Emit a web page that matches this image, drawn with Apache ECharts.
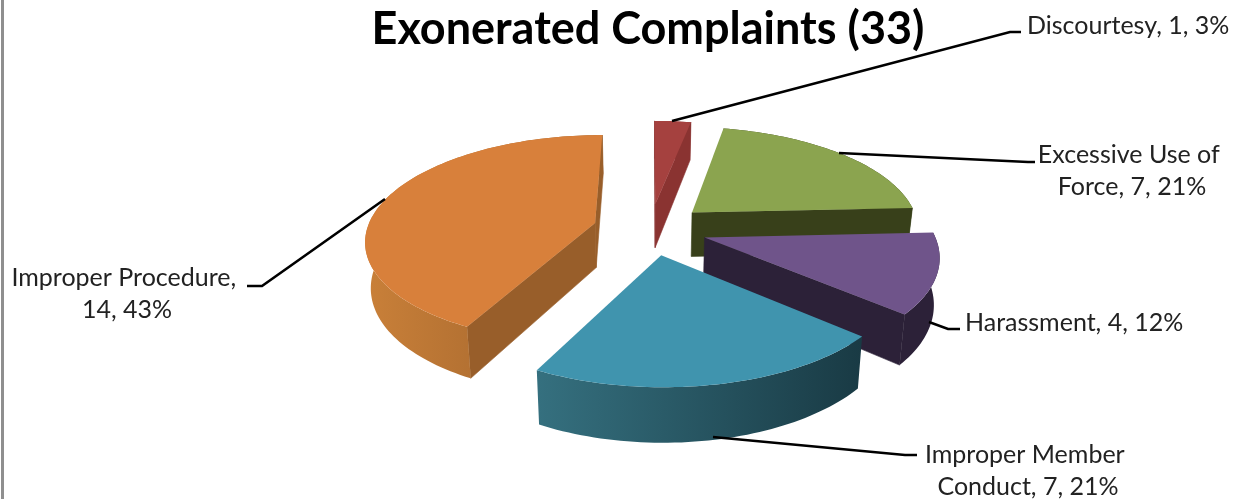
<!DOCTYPE html>
<html>
<head>
<meta charset="utf-8">
<style>
    html, body {margin: 0; padding: 0; background: #fff;}
    #complaints_chart {width: 1239px; height: 499px;}
</style>
<script src="https://cdn.jsdelivr.net/npm/echarts@6/dist/echarts.min.js"></script>
</head>
<body>
<div id="complaints_chart"></div>
<script>
var chartTitle = "Exonerated Complaints (33)";
var categories = ["Discourtesy", "Excessive Use of Force", "Harassment", "Improper Member Conduct", "Improper Procedure"];
var counts = [1, 7, 4, 7, 14];
var percents = [3, 21, 12, 21, 43];

// colours: top face, cut wall, outer wall left -> right
var topColors = ["#A5413F", "#8BA44F", "#6F548A", "#4094AE", "#D8803B"];
var cutColors = ["#8A3331", "#38401A", "#2C2138", "#1A3B45", "#985E2A"];
var rimColors = [["#8A3331", "#8A3331"], ["#38401A", "#38401A"], ["#2C2138", "#2C2138"], ["#35707F", "#193A44"], ["#C98039", "#9A5F2A"]];

// fake 3d camera, tuned by eye on the picture
var cam = {cx: 650, cy: 229, rx: 228, ry: 103, persp: 0.152, explode: 0.25, depth: 45, shrink: 0.98};

// label boxes and the leader lines going to them
var labelBoxes = [
    {x: 1027, y: 26, width: 230, align: "left"},
    {x: 1132, y: 171, width: 195, align: "center"},
    {x: 965, y: 323, width: 240, align: "left"},
    {x: 1028, y: 471, width: 225, align: "center"},
    {x: 127, y: 294, width: 245, align: "center"}
];
var leaderLines = [
    [[672, 121], [1010, 32], [1021, 32]],
    [[839, 153], [1028, 162], [1035, 162]],
    [[929, 322], [948, 329], [960, 329]],
    [[713, 437], [905, 455], [917, 455]],
    [[385, 199], [262, 286], [247, 286]]
];

function project(x, y, down) {
    var s = 1 / (1 + cam.persp * y);
    var sx = cam.cx + cam.rx * x * s;
    var sy = cam.cy - cam.ry * y * s;
    if (down) {
        sx = cam.cx + (sx - cam.cx) * cam.shrink;
        sy += cam.depth * s;
    }
    return [sx, sy];
}

function renderSlice(params, api) {
    var i = params.dataIndex;
    var total = counts.reduce(function (a, b) { return a + b; }, 0);
    var before = 0;
    for (var k = 0; k < i; k++) {
        before += counts[k];
    }
    var a0 = before / total * Math.PI * 2;
    var a1 = (before + api.value(0)) / total * Math.PI * 2;
    var mid = (a0 + a1) / 2;
    var ox = cam.explode * Math.sin(mid);
    var oy = cam.explode * Math.cos(mid);

    var topArc = [], lowArc = [];
    var steps = Math.max(4, Math.ceil((a1 - a0) * 40));
    for (var n = 0; n <= steps; n++) {
        var a = a0 + (a1 - a0) * n / steps;
        topArc.push(project(ox + Math.sin(a), oy + Math.cos(a), false));
        lowArc.push(project(ox + Math.sin(a), oy + Math.cos(a), true));
    }
    var apexTop = project(ox, oy, false);
    var apexLow = project(ox, oy, true);

    var minX = Infinity, maxX = -Infinity;
    topArc.forEach(function (p) {
        minX = Math.min(minX, p[0]);
        maxX = Math.max(maxX, p[0]);
    });

    var z = 10 * (5 - oy * 10);
    var children = [];
    // cut walls, only the ones facing the viewer
    [[apexTop, topArc[0], lowArc[0], apexLow], [topArc[steps], apexTop, apexLow, lowArc[steps]]].forEach(function (q) {
        var area = 0;
        for (var m = 0; m < 4; m++) {
            var p = q[m], r = q[(m + 1) % 4];
            area += p[0] * r[1] - r[0] * p[1];
        }
        if (area < 0) {
            children.push({
                type: "polygon", shape: {points: q}, z2: z,
                style: {fill: cutColors[i], stroke: cutColors[i], lineWidth: 0.6}
            });
        }
    });
    // outer wall
    children.push({
        type: "polygon", shape: {points: topArc.concat(lowArc.slice().reverse())}, z2: z + 1,
        style: {
            fill: new echarts.graphic.LinearGradient(minX, 0, maxX, 0, [
                {offset: 0, color: rimColors[i][0]},
                {offset: 1, color: rimColors[i][1]}
            ], true)
        }
    });
    // top face
    children.push({
        type: "polygon", shape: {points: [apexTop].concat(topArc)}, z2: z + 2,
        style: {fill: topColors[i]}
    });
    return {type: "group", children: children};
}

function labelText(i) {
    return categories[i] + ", " + counts[i] + ", " + percents[i] + "%";
}

function buildGraphics() {
    var list = [
        {type: "rect", shape: {x: 1, y: 0, width: 3, height: 499}, style: {fill: "#8F8F8F"}},
        {
            type: "text", x: 648, y: 29, z: 5,
            style: {
                text: chartTitle, fill: "#000", font: "bold 45px Lato",
                textAlign: "center", textVerticalAlign: "middle"
            }
        }
    ];
    leaderLines.forEach(function (pts) {
        list.push({
            type: "polyline", shape: {points: pts}, z: 4,
            style: {stroke: "#000", lineWidth: 2.6, fill: null}
        });
    });
    labelBoxes.forEach(function (box, i) {
        list.push({
            type: "text", x: box.x, y: box.y, z: 5,
            style: {
                text: labelText(i), fill: "#222", font: "25px Lato", lineHeight: 32,
                width: box.width, overflow: "break",
                textAlign: box.align, align: box.align, textVerticalAlign: "middle", verticalAlign: "middle"
            }
        });
    });
    return list;
}

var myChart = echarts.init(document.getElementById("complaints_chart"));
var option = {
    backgroundColor: "#fff",
    animation: false,
    graphic: buildGraphics(),
    series: [
        {
            type: "custom",
            coordinateSystem: "none",
            renderItem: renderSlice,
            z: 2,
            data: counts.map(function (v, i) { return {value: [v], name: categories[i]}; })
        }
    ]
};
myChart.setOption(option);
</script>
</body>
</html>
